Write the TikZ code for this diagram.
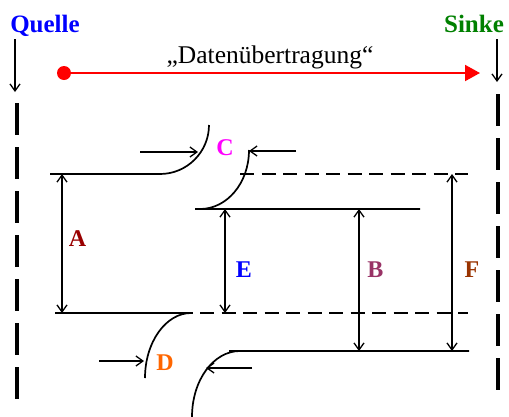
\documentclass[tikz,border=0pt]{standalone}
\usepackage{fontspec}
\setmainfont{Liberation Serif}
\usetikzlibrary{arrows.meta}

\definecolor{qblue}{RGB}{0,0,255}
\definecolor{sgreen}{RGB}{0,128,0}
\definecolor{lA}{RGB}{153,0,0}
\definecolor{lB}{RGB}{153,51,102}
\definecolor{lC}{RGB}{255,0,255}
\definecolor{lD}{RGB}{255,102,0}
\definecolor{lF}{RGB}{153,51,0}

\tikzset{
  plate/.style={line width=1.7pt},
  guide/.style={line width=1.5pt, dash pattern=on 14pt off 7.5pt},
  dim/.style={line width=1.3pt, {Straight Barb[length=7pt,width=10pt]}-{Straight Barb[length=7pt,width=10pt]}},
  flow/.style={line width=1.3pt, -{Straight Barb[length=7pt,width=10pt]}},
  boundary/.style={line width=3.6pt, dash pattern=on 32pt off 12pt},
  lbl/.style={inner sep=0pt, anchor=base, font=\fontsize{24}{28}\selectfont\bfseries},
  head/.style={inner sep=0pt, anchor=base, font=\fontsize{25}{30}\selectfont\bfseries}
}

\begin{document}
\begin{tikzpicture}[x=1pt, y=-1pt]
\useasboundingbox (0,0) rectangle (509,416);

% source and sink
\node[head, text=qblue] (quelle) at (45,32) {Quelle};
\node[head, text=sgreen] (sinke) at (474,32) {Sinke};
\coordinate (q1) at (15,39);  \coordinate (q2) at (15,92);
\coordinate (s1) at (497,39); \coordinate (s2) at (497,82);
\draw[flow] (q1) -- (q2);
\draw[flow] (s1) -- (s2);
\draw[boundary] (17,103) -- (17,400);
\draw[boundary] (498,94) -- (498,391);

% transfer direction
\node[inner sep=0pt, anchor=base, font=\fontsize{25.5}{30}\selectfont] (title) at (270,63) {„Datenübertragung“};
\coordinate (r1) at (64,73); \coordinate (r2) at (480,73);
\fill[red] (r1) circle (7);
\draw[red, line width=2pt, -{Triangle[length=15pt,width=16pt]}] (r1) -- (r2);

% upper left plate with bend
\draw[plate] (50,174) -- (160,174) .. controls (187,174) and (209,152) .. (209,125);
% upper right plate with bend
\draw[plate] (249,150) .. controls (249,183) and (227,209) .. (200,209) -- (420,209);
\draw[plate] (195,209) -- (200,209);
% lower left plate with bend
\draw[plate] (55,313) -- (193,313);
\draw[plate] (191,313) .. controls (166,313) and (145,342) .. (145,378);
% lower right plate with bend
\draw[plate] (469,351) -- (240,351) .. controls (213.5,351) and (192,380) .. (192,417);
\draw[plate] (229,351) -- (240,351);

% reference lines
\draw[guide] (240,174) -- (468,174);
\draw[guide] (200,313) -- (468,313);

% flow arrows at the bends
\coordinate (c1) at (140,152); \coordinate (c2) at (198,152);
\coordinate (c3) at (296,151); \coordinate (c4) at (249,151);
\coordinate (d1) at (99,361);  \coordinate (d2) at (144,361);
\coordinate (e1) at (252,368); \coordinate (e2) at (206,368);
\draw[flow] (c1) -- (c2);
\draw[flow] (c3) -- (c4);
\draw[flow] (d1) -- (d2);
\draw[flow] (e1) -- (e2);

% dimensions
\coordinate (a1) at (62,174);  \coordinate (a2) at (62,313);
\coordinate (E1) at (225,209); \coordinate (E2) at (225,313);
\coordinate (b1) at (359,209); \coordinate (b2) at (359,351);
\coordinate (f1) at (452,174); \coordinate (f2) at (452,351);
\draw[dim] (a1) -- (a2);
\draw[dim] (E1) -- (E2);
\draw[dim] (b1) -- (b2);
\draw[dim] (f1) -- (f2);

% labels
\node[lbl, text=lA] (labA) at (77.5,246) {A};
\node[lbl, text=lC] (labC) at (225,155) {C};
\node[lbl, text=qblue] (labE) at (244,277) {E};
\node[lbl, text=lB] (labB) at (375.5,277) {B};
\node[lbl, text=lF] (labF) at (472,277) {F};
\node[lbl, text=lD] (labD) at (165,370) {D};
\end{tikzpicture}
\end{document}
